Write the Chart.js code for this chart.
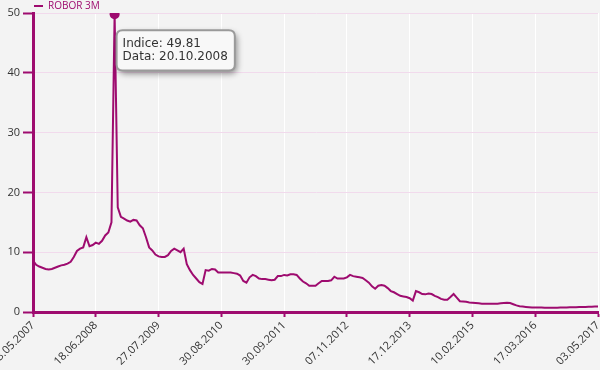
<!DOCTYPE html>
<html>
<head>
<meta charset="utf-8">
<style>
  html, body { margin: 0; padding: 0; background: #f3f3f3; }
  #wrap { width: 600px; height: 370px; }
</style>
<script src="https://cdn.jsdelivr.net/npm/chart.js@4/dist/chart.umd.min.js"></script>
</head>
<body>
<div id="wrap"><canvas id="grafico" width="600" height="370"></canvas></div>
<script>
// ROBOR 3M, valori (aprox. 20 puncte intre doua etichete)
var robor3m = [
  8.6, 7.9, 7.6, 7.4, 7.2, 7.1, 7.2, 7.4, 7.6, 7.8,
  7.9, 8.1, 8.4, 9.2, 10.2, 10.6, 10.8, 12.5, 11.0, 11.2,
  11.6, 11.4, 11.9, 12.8, 13.3, 15.0, 49.81, 17.5, 15.9, 15.6,
  15.3, 15.1, 15.4, 15.3, 14.5, 14.0, 12.5, 10.8, 10.3, 9.6,
  9.3, 9.2, 9.2, 9.5, 10.2, 10.6, 10.3, 10.0, 10.6, 8.0,
  7.0, 6.2, 5.6, 5.0, 4.7, 7.0, 6.9, 7.2, 7.1, 6.6,
  6.6, 6.6, 6.6, 6.6, 6.5, 6.4, 6.1, 5.2, 4.9, 5.8,
  6.2, 6.0, 5.6, 5.5, 5.5, 5.4, 5.3, 5.4, 6.0, 6.0,
  6.2, 6.1, 6.3, 6.3, 6.2, 5.6, 5.1, 4.8, 4.4, 4.4,
  4.4, 4.8, 5.2, 5.2, 5.2, 5.3, 5.9, 5.6, 5.6, 5.6,
  5.8, 6.2, 6.0, 5.9, 5.8, 5.7, 5.3, 4.9, 4.3, 3.9,
  4.4, 4.5, 4.4, 4.0, 3.5, 3.3, 3.0, 2.7, 2.6, 2.5,
  2.3, 1.9, 3.5, 3.3, 3.0, 2.95, 3.1, 3.0, 2.7, 2.5,
  2.2, 2.05, 2.05, 2.5, 3.0, 2.4, 1.8, 1.75, 1.7, 1.6,
  1.55, 1.5, 1.45, 1.4, 1.4, 1.4, 1.4, 1.4, 1.4, 1.45,
  1.5, 1.55, 1.5, 1.3, 1.1, 0.95, 0.9, 0.85, 0.8, 0.75,
  0.75, 0.75, 0.75, 0.7, 0.7, 0.7, 0.7, 0.72, 0.75, 0.75,
  0.75, 0.78, 0.8, 0.8, 0.82, 0.85, 0.85, 0.87, 0.88, 0.9,
  0.9
];
var tickLabels = ['03.05.2007', '18.06.2008', '27.07.2009', '30.08.2010', '30.09.2011',
  '07.11.2012', '17.12.2013', '10.02.2015', '17.03.2016', '03.05.2017'];
var pointsPerTick = 20;
var peakDate = '20.10.2008';
var yTicks = [0, 10, 20, 30, 40, 50];

var magenta = '#9e0b6f';
var peakIndex = robor3m.indexOf(Math.max.apply(null, robor3m));

Chart.Tooltip.positioners.peak = function (items) {
  if (!items.length) return false;
  var el = items[0].element;
  return { x: el.x + 8, y: el.y + 16 };
};

// umbra tooltip-ului + legenda mai joasa
var extras = {
  id: 'extras',
  beforeLayout: function (chart) {
    var lg = chart.legend;
    if (lg && !lg._patched) {
      var fit = lg.fit;
      lg.fit = function () { fit.call(this); this.height = 13; };
      lg._patched = true;
    }
  },
  beforeTooltipDraw: function (chart, args) {
    var t = args.tooltip, c = chart.ctx;
    c.save();
    c.shadowColor = 'rgba(0,0,0,0.45)';
    c.shadowBlur = 6;
    c.shadowOffsetX = 2;
    c.shadowOffsetY = 3;
    c.fillStyle = '#f8f8f8';
    c.beginPath();
    c.roundRect(t.x, t.y, t.width, t.height, 6);
    c.fill();
    c.restore();
  }
};

var ctx = document.getElementById('grafico').getContext('2d');
var chart = new Chart(ctx, {
  type: 'line',
  data: {
    datasets: [{
      label: 'ROBOR 3M',
      data: robor3m.map(function (v, i) { return { x: i, y: v }; }),
      borderColor: magenta,
      backgroundColor: magenta,
      borderWidth: 2,
      tension: 0,
      pointRadius: function (c) { return c.dataIndex === peakIndex ? 5 : 0; },
      pointHoverRadius: function (c) { return c.dataIndex === peakIndex ? 5 : 0; },
      pointBorderWidth: 0,
      pointBackgroundColor: magenta
    }]
  },
  options: {
    responsive: false,
    animation: false,
    events: [],
    layout: { padding: 0 },
    plugins: {
      legend: {
        position: 'top',
        align: 'start',
        fullSize: false,
        labels: {
          boxWidth: 9,
          boxHeight: 2,
          padding: 1,
          color: magenta,
          font: { family: 'Open Sans', size: 10 },
          generateLabels: function (chart) {
            return Chart.defaults.plugins.legend.labels.generateLabels(chart).map(function (l) {
              l.lineWidth = 0;
              return l;
            });
          }
        }
      },
      tooltip: {
        enabled: true,
        position: 'peak',
        xAlign: 'left',
        yAlign: 'top',
        caretSize: 0,
        caretPadding: 0,
        backgroundColor: '#f8f8f8',
        borderColor: '#9a9a9a',
        borderWidth: 2,
        cornerRadius: 6,
        displayColors: false,
        bodyColor: '#333',
        bodyFont: { family: 'DejaVu Sans', size: 12, lineHeight: 1.1 },
        bodySpacing: 0,
        padding: { left: 6, right: 7, top: 7, bottom: 7 },
        callbacks: {
          title: function () { return ''; },
          label: function (c) {
            return ['Indice: ' + c.parsed.y.toFixed(2), 'Data: ' + peakDate];
          }
        }
      }
    },
    scales: {
      x: {
        type: 'linear',
        min: 0,
        max: (tickLabels.length - 1) * pointsPerTick,
        afterFit: function (s) { s.paddingLeft = 0; s.paddingRight = 2; },
        ticks: {
          stepSize: pointsPerTick,
          autoSkip: false,
          maxRotation: 45,
          minRotation: 45,
          padding: 2,
          color: '#333',
          font: { family: 'Open Sans', size: 11 },
          callback: function (v) { return tickLabels[Math.round(v / pointsPerTick)]; }
        },
        grid: {
          color: 'rgba(255,255,255,0.95)',
          lineWidth: 1,
          tickColor: magenta,
          tickLength: 5,
          tickWidth: 2
        },
        border: { color: magenta, width: 3 }
      },
      y: {
        min: 0,
        max: 50,
        afterFit: function (s) { s.width = 33; },
        afterBuildTicks: function (s) { s.ticks = yTicks.map(function (v) { return { value: v }; }); },
        ticks: {
          padding: 3,
          color: '#333',
          font: { family: 'Open Sans', size: 11 }
        },
        grid: {
          color: '#f1daec',
          lineWidth: 1,
          tickColor: magenta,
          tickLength: 10,
          tickWidth: 2
        },
        border: { color: magenta, width: 3 }
      }
    }
  },
  plugins: [extras]
});

chart.tooltip.setActiveElements([{ datasetIndex: 0, index: peakIndex }], { x: 0, y: 0 });
chart.update();
</script>
</body>
</html>
